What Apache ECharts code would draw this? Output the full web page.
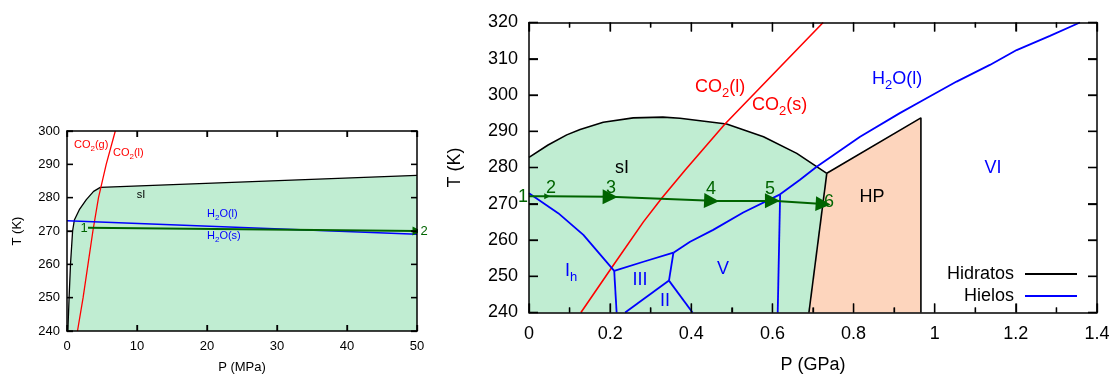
<!DOCTYPE html>
<html><head><meta charset="utf-8">
<script src="https://cdn.jsdelivr.net/npm/echarts@6/dist/echarts.min.js"></script>
<style>html,body{margin:0;padding:0;background:#fff}#c{width:1113px;height:374px}</style>
</head><body><div id="c"></div>
<script>
// ---------- Left panel: P (MPa) vs T (K) ----------
const xTicksL = [0, 10, 20, 30, 40, 50];
const yTicksL = [240, 250, 260, 270, 280, 290, 300];
const hydrateL = [[0.12,240],[0.3,250],[0.5,260],[0.8,270],[1.05,273.3],[1.76,276.4],[2.76,279.4],[3.8,281.9],[4.76,283.1],[50,286.7]];
const co2L = [[1.5,240],[2.3,250],[3.0,260],[3.7,270],[4.5,280],[5.6,290],[6.9,300]];
const iceL = [[0,273.1],[50,269.0]];
const pathL = [[3,271],[50,270]];

// ---------- Right panel: P (GPa) vs T (K) ----------
const xTicksR = [0, 0.2, 0.4, 0.6, 0.8, 1.0, 1.2, 1.4];
const xMinorR = [0.1, 0.3, 0.5, 0.7, 0.9, 1.1, 1.3];
const yTicksR = [240, 250, 260, 270, 280, 290, 300, 310, 320];
const sIDome = [[0,282.8],[0.047,286.2],[0.093,289],[0.126,290.5],[0.183,292.5],[0.257,293.7],[0.33,293.9],[0.372,293.6],[0.487,292.0],[0.578,288.5],[0.66,283.9],[0.734,278.4]];
const sIFoot = [[0.734,278.4],[0.69,240]];
const hpTop = [[0.734,278.4],[0.966,293.7],[0.966,240]];
const co2R = [[0.128,240],[0.204,252.4],[0.282,265.0],[0.327,271.5],[0.385,279.3],[0.483,292],[0.725,320]];
const iceIhMelt = [[0,272.9],[0.072,267.4],[0.134,261.4],[0.2,252.8],[0.21,251.5]];
const iceIhIII = [[0.21,251.5],[0.216,240]];
const iceIIIMelt = [[0.21,251.5],[0.282,254.0],[0.356,256.5]];
const iceIIIV = [[0.356,256.5],[0.345,248.8]];
const iceIIIII = [[0.345,248.8],[0.237,240]];
const iceIIV = [[0.345,248.8],[0.403,240]];
const iceVMelt = [[0.356,256.5],[0.397,259.5],[0.454,262.8],[0.528,267.6],[0.619,272.6]];
const iceVVI = [[0.619,272.6],[0.613,240]];
const iceVIMelt = [[0.619,272.6],[0.668,276.6],[0.709,280.2],[0.816,288.5],[0.914,295],[0.972,298.6],[1.054,303.7],[1.136,308.3],[1.202,312.4],[1.284,316.3],[1.358,320]];
const pathR = [[0,272.1],[0.045,272.05],[0.2,271.9],[0.45,270.8],[0.6,270.8],[0.725,269.9]];

const GREEN = '#c0edd2', PEACH = '#fdd5bd', PATH = '#006400';
const FONT = 'Liberation Sans, Arial, sans-serif';

const chart = echarts.init(document.getElementById('c'), null, {renderer:'canvas'});

function poly(xi, yi, pts, color){
  return {type:'custom', xAxisIndex:xi, yAxisIndex:yi, silent:true, z:1, data:pts,
    renderItem:(params, api)=>{
      if (params.dataIndex !== 0) return null;
      return {type:'polygon', shape:{points: pts.map(p=>api.coord(p))}, style:{fill:color}};
    }};
}
function line(name, xi, yi, data, color, w){
  return {type:'line', name, xAxisIndex:xi, yAxisIndex:yi, data, symbol:'none', showSymbol:false,
    lineStyle:{color, width:w}, itemStyle:{color}, silent:true, z:3, animation:false};
}
function arrows(xi, yi, pts, from, to, size){
  const segs = [];
  for (let i=from;i<to;i++) segs.push({coords:[pts[i], pts[i+1]]});
  return {type:'lines', coordinateSystem:'cartesian2d', xAxisIndex:xi, yAxisIndex:yi, silent:true, z:4,
    symbol:['none','triangle'], symbolSize:size, lineStyle:{color:PATH, width:2, opacity:1, curveness:0},
    itemStyle:{color:PATH}, data:segs};
}
function ax(grid, ticks, interval, pos, showLbl, o){
  const a = {type:'value', gridIndex:grid, min:ticks[0], max:ticks[ticks.length-1], interval, position:pos, z:5,
    axisLine:{show:true, onZero:false, lineStyle:{color:'#000', width:1.5}},
    axisTick:{show:true, inside:true, length:o.tick, lineStyle:{color:'#000', width:1.3}},
    axisLabel:{show:showLbl, color:'#000', fontSize:o.fs, fontFamily:FONT, margin:o.margin},
    splitLine:{show:false}};
  if (o.minor) a.minorTick = {show:true, splitNumber:2, length:5, lineStyle:{color:'#000', width:1.3}};
  if (o.fmt) a.axisLabel.formatter = o.fmt;
  if (o.name) { a.name = o.name; a.nameLocation = 'middle'; a.nameGap = o.gap;
    a.nameTextStyle = {fontSize:o.fs, fontFamily:FONT, color:'#000'}; }
  return a;
}
const fmtR = v => String(Math.round(v*10)/10);

const sub = (fs, col) => ({
  n:{fontSize:fs, fontFamily:FONT, fill:col, lineHeight:fs, verticalAlign:'top'},
  s:{fontSize:Math.round(fs*0.7), fontFamily:FONT, fill:col, lineHeight:Math.round(fs*1.2), verticalAlign:'bottom'}
});
function txt(x, y, text, col, fs, rich){
  const st = {text, fill:col, font: fs+'px '+FONT, align:'left', verticalAlign:'middle'};
  if (rich) st.rich = sub(fs, col);
  return {type:'text', x, y, silent:true, z:100, style:st};
}
function ctxt(x, y, text, col, fs){
  return {type:'text', x, y, silent:true, z:100, style:{text, fill:col, font: fs+'px '+FONT, align:'center', verticalAlign:'middle'}};
}

const labels = [
  txt(74, 146, '{n|CO}{s|2}{n|(g)}', '#ff0000', 11, true),
  txt(113, 154, '{n|CO}{s|2}{n|(l)}', '#ff0000', 11, true),
  ctxt(141, 195, 'sI', '#000', 11),
  txt(207, 215, '{n|H}{s|2}{n|O(l)}', '#0000ff', 11, true),
  txt(207, 237, '{n|H}{s|2}{n|O(s)}', '#0000ff', 11, true),
  ctxt(84, 228, '1', PATH, 13),
  ctxt(424, 231, '2', PATH, 13),
  txt(695, 89, '{n|CO}{s|2}{n|(l)}', '#ff0000', 18, true),
  txt(752, 107, '{n|CO}{s|2}{n|(s)}', '#ff0000', 18, true),
  txt(872, 81, '{n|H}{s|2}{n|O(l)}', '#0000ff', 18, true),
  ctxt(622, 168, 'sI', '#000', 18),
  txt(565, 273, '{n|I}{s|h}', '#0000ff', 18, true),
  ctxt(640, 280, 'III', '#0000ff', 18),
  ctxt(665, 301, 'II', '#0000ff', 18),
  ctxt(723, 269, 'V', '#0000ff', 18),
  ctxt(872, 197, 'HP', '#000', 18),
  ctxt(993, 168, 'VI', '#0000ff', 18),
  ctxt(523, 197, '1', PATH, 18),
  ctxt(551, 188, '2', PATH, 18),
  ctxt(611, 188, '3', PATH, 18),
  ctxt(711, 189, '4', PATH, 18),
  ctxt(770, 189, '5', PATH, 18),
  ctxt(829, 202, '6', PATH, 18)
];

const option = {
  animation:false,
  backgroundColor:'#fff',
  grid:[
    {left:67, top:131, width:350, height:200, outerBoundsMode:'none'},
    {left:529, top:22.5, width:568, height:290, outerBoundsMode:'none'}
  ],
  xAxis:[
    ax(0, xTicksL, 10, 'bottom', true, {tick:6, fs:13, margin:9, name:'P (MPa)', gap:30}),
    ax(0, xTicksL, 10, 'top', false, {tick:6, fs:13, margin:9}),
    ax(1, xTicksR, 0.2, 'bottom', true, {tick:9, fs:18, margin:13, fmt:fmtR, minor:true, name:'P (GPa)', gap:44}),
    ax(1, xTicksR, 0.2, 'top', false, {tick:9, fs:18, margin:13, minor:true})
  ],
  yAxis:[
    ax(0, yTicksL, 10, 'left', true, {tick:6, fs:13, margin:7, name:'T (K)', gap:43}),
    ax(0, yTicksL, 10, 'right', false, {tick:6, fs:13, margin:7}),
    ax(1, yTicksR, 10, 'left', true, {tick:9, fs:18, margin:11, name:'T (K)', gap:65}),
    ax(1, yTicksR, 10, 'right', false, {tick:9, fs:18, margin:11})
  ],
  legend:{
    data:['Hidratos','Hielos'], orient:'vertical', right:36, top:265, align:'right', padding:0,
    icon:'rect', itemWidth:52, itemHeight:2, itemGap:4, selectedMode:false,
    textStyle:{fontSize:18, fontFamily:FONT, color:'#000', lineHeight:17, padding:[0,6,0,0]}
  },
  series:[
    poly(0, 0, hydrateL.concat([[xTicksL[xTicksL.length-1], yTicksL[0]]]), GREEN),
    poly(2, 2, [[xTicksR[0], yTicksR[0]]].concat(sIDome, [sIFoot[1]]), GREEN),
    poly(2, 2, [sIFoot[1]].concat(hpTop), PEACH),
    line('Hidratos', 0, 0, hydrateL, '#000', 1.3),
    line('co2L', 0, 0, co2L, '#ff0000', 1.3),
    line('Hielos', 0, 0, iceL, '#0000ff', 1.5),
    arrows(0, 0, pathL, 0, 1, 9),
    line('Hidratos', 2, 2, sIDome, '#000', 1.6),
    line('Hidratos', 2, 2, sIFoot, '#000', 1.6),
    line('Hidratos', 2, 2, hpTop, '#000', 1.6),
    line('co2R', 2, 2, co2R, '#ff0000', 1.6),
    line('Hielos', 2, 2, iceIhMelt, '#0000ff', 1.8),
    line('Hielos', 2, 2, iceIhIII, '#0000ff', 1.8),
    line('Hielos', 2, 2, iceIIIMelt, '#0000ff', 1.8),
    line('Hielos', 2, 2, iceIIIV, '#0000ff', 1.8),
    line('Hielos', 2, 2, iceIIIII, '#0000ff', 1.8),
    line('Hielos', 2, 2, iceIIV, '#0000ff', 1.8),
    line('Hielos', 2, 2, iceVMelt, '#0000ff', 1.8),
    line('Hielos', 2, 2, iceVVI, '#0000ff', 1.8),
    line('Hielos', 2, 2, iceVIMelt, '#0000ff', 1.8),
    arrows(2, 2, pathR, 0, 1, 6),
    arrows(2, 2, pathR, 1, 5, 15)
  ],
  graphic: labels
};
chart.setOption(option);

// inward tick marks on all four sides, positioned through the axes' own scales
const tickEls = [];
function addTicks(finder, xt, xMinor, yt, len, minorLen){
  const x0 = xt[0], x1 = xt[xt.length-1], y0 = yt[0], y1 = yt[yt.length-1];
  const P = (x, y) => chart.convertToPixel(finder, [x, y]);
  const seg = (a, b) => tickEls.push({type:'line', silent:true, z:90,
    shape:{x1:a[0], y1:a[1], x2:b[0], y2:b[1]}, style:{stroke:'#000', lineWidth:1.3}});
  const xs = xt.map(v => [v, len]).concat(xMinor.map(v => [v, minorLen]));
  xs.forEach(([v, l]) => {
    const b = P(v, y0), t = P(v, y1);
    seg(b, [b[0], b[1] - l]); seg(t, [t[0], t[1] + l]);
  });
  yt.forEach(v => {
    const a = P(x0, v), r = P(x1, v);
    seg(a, [a[0] + len, a[1]]); seg(r, [r[0] - len, r[1]]);
  });
}
addTicks({xAxisIndex:0, yAxisIndex:0}, xTicksL, [], yTicksL, 6, 0);
addTicks({xAxisIndex:2, yAxisIndex:2}, xTicksR, xMinorR, yTicksR, 9, 5);
chart.setOption({graphic: labels.concat(tickEls)});
</script></body></html>
